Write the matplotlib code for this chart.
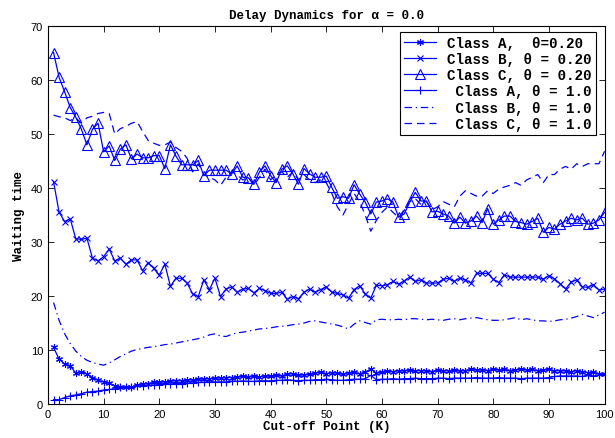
import numpy as np
import matplotlib
matplotlib.use("Agg")
import matplotlib.pyplot as plt
from matplotlib.font_manager import FontProperties

# cut-off points K = 1..100
k = np.arange(1, 101)

class_a_020 = [10.5, 8.3, 7.4, 7.1, 5.7, 6.0, 5.6, 4.9, 4.4, 4.1,
               3.9, 3.4, 3.1, 3.1, 3.1, 3.5, 3.7, 3.8, 4.0, 4.0,
               4.1, 4.2, 4.3, 4.3, 4.5, 4.4, 4.6, 4.6, 4.7, 4.8,
               4.8, 4.9, 4.9, 5.0, 5.1, 5.0, 5.1, 5.0, 5.2, 5.1,
               5.3, 5.2, 5.5, 5.6, 5.3, 5.4, 5.5, 5.7, 5.9, 5.6,
               5.8, 5.7, 5.5, 5.8, 5.9, 5.6, 5.9, 6.5, 5.7, 5.9,
               6.1, 6.0, 6.2, 6.1, 6.3, 6.1, 6.2, 6.1, 6.0, 6.3,
               6.2, 6.1, 6.3, 6.1, 6.2, 6.4, 6.3, 6.3, 6.2, 6.4,
               6.3, 6.4, 6.2, 6.3, 6.5, 6.3, 6.4, 6.2, 6.3, 6.4,
               6.1, 6.2, 6.1, 6.0, 6.2, 6.0, 5.8, 5.9, 5.6, 5.5]

class_b_020 = [41.2, 35.5, 33.8, 34.3, 30.6, 30.5, 30.7, 27.0, 26.5, 27.3,
               28.7, 26.5, 27.0, 25.9, 26.7, 26.7, 24.7, 26.2, 25.1, 23.9,
               25.9, 21.8, 23.3, 23.3, 22.4, 20.4, 19.9, 23.0, 21.2, 23.3,
               19.9, 21.3, 21.7, 20.7, 21.3, 21.4, 20.6, 21.4, 21.0, 20.5,
               20.5, 20.7, 19.4, 19.9, 19.5, 20.7, 21.3, 20.7, 21.2, 21.7,
               20.7, 20.5, 20.2, 19.6, 21.2, 21.9, 20.4, 19.6, 22.0, 21.9,
               22.1, 22.7, 22.2, 22.8, 23.5, 22.7, 23.0, 22.4, 22.4, 22.4,
               23.1, 23.3, 22.7, 23.3, 23.0, 22.4, 24.2, 24.2, 24.2, 23.1,
               22.5, 23.9, 23.5, 23.5, 23.5, 23.5, 23.5, 23.5, 23.1, 23.8,
               23.2, 22.3, 21.3, 22.6, 23.0, 21.7, 21.6, 22.1, 21.1, 21.3]

class_c_020 = [65.1, 60.5, 57.8, 54.9, 53.1, 50.9, 48.0, 50.9, 52.0, 46.7,
               47.8, 45.1, 47.2, 48.0, 45.4, 46.3, 45.6, 45.6, 46.0, 46.0,
               43.6, 48.0, 45.9, 44.3, 44.3, 44.3, 45.1, 42.3, 43.3, 43.3,
               43.3, 43.3, 42.6, 44.1, 42.0, 41.9, 40.7, 43.0, 44.1, 42.3,
               41.0, 43.5, 44.1, 42.6, 40.7, 43.6, 42.6, 42.0, 42.0, 42.2,
               40.1, 38.1, 38.4, 38.1, 40.6, 38.9, 37.4, 35.2, 37.4, 37.6,
               38.0, 37.4, 34.6, 35.2, 37.4, 39.2, 37.6, 37.6, 35.6, 35.7,
               35.2, 34.8, 33.5, 34.6, 33.5, 33.9, 34.8, 33.6, 36.2, 33.3,
               34.1, 34.8, 34.8, 33.8, 33.6, 33.3, 33.8, 34.4, 31.8, 32.7,
               32.4, 33.3, 33.9, 34.4, 34.1, 34.4, 33.3, 33.5, 34.1, 35.5]

class_a_10 = [0.8, 0.8, 1.2, 1.5, 1.7, 1.9, 2.2, 2.3, 2.4, 2.6,
              2.7, 2.8, 3.1, 3.1, 3.2, 3.3, 3.4, 3.5, 3.5, 3.6,
              3.7, 3.7, 3.8, 3.8, 3.9, 3.9, 4.0, 4.0, 4.1, 4.1,
              4.1, 4.1, 4.2, 4.2, 4.3, 4.2, 4.2, 4.3, 4.3, 4.3,
              4.4, 4.4, 4.5, 4.4, 4.3, 4.4, 4.4, 4.5, 4.5, 4.6,
              4.5, 4.4, 4.4, 4.5, 4.6, 4.6, 4.7, 5.3, 4.5, 4.6,
              4.6, 4.7, 4.6, 4.7, 4.7, 4.8, 4.7, 4.7, 4.7, 4.8,
              4.8, 4.7, 4.8, 4.8, 4.8, 4.8, 4.9, 4.8, 4.8, 4.8,
              4.9, 4.8, 4.8, 4.8, 4.7, 4.8, 4.8, 4.8, 4.8, 4.9,
              5.1, 5.2, 5.2, 5.2, 5.2, 5.1, 5.3, 5.2, 5.4, 5.5]

class_b_10 = [18.8, 15.5, 13.0, 11.2, 9.8, 8.8, 8.1, 7.7, 7.4, 7.2,
              7.6, 8.2, 8.8, 9.3, 9.8, 10.1, 10.3, 10.5, 10.6, 10.8,
              11.0, 11.1, 11.3, 11.5, 11.7, 11.9, 12.1, 12.4, 12.8, 13.0,
              12.6, 12.5, 12.9, 13.2, 13.3, 13.5, 13.7, 13.9, 14.0, 14.1,
              14.3, 14.4, 14.5, 14.7, 14.8, 15.0, 15.3, 15.4, 15.2, 15.0,
              14.8, 14.6, 14.3, 13.9, 14.8, 15.4, 15.1, 14.8, 15.6, 15.7,
              15.6, 15.6, 15.7, 15.6, 15.8, 15.8, 15.7, 15.6, 15.7, 15.6,
              15.5, 15.7, 15.8, 15.6, 15.8, 15.9, 16.0, 15.8, 15.6, 15.5,
              15.5, 15.6, 15.8, 16.0, 15.6, 15.8, 15.6, 15.4, 15.4, 15.3,
              15.4, 15.6, 15.7, 15.9, 16.2, 16.6, 16.3, 16.0, 16.5, 17.0]

class_c_10 = [53.5, 53.2, 53.0, 52.5, 53.0, 52.0, 53.0, 53.3, 53.8, 54.0,
              53.8, 50.0, 51.0, 51.4, 52.0, 52.3, 50.5, 48.8, 48.3, 47.9,
              48.0, 48.5, 47.5, 46.8, 45.5, 43.0, 44.5, 42.5, 42.0, 41.5,
              40.5, 42.0, 43.0, 42.5, 41.5, 42.0, 40.5, 42.0, 43.5, 41.5,
              42.5, 43.0, 42.0, 43.0, 41.5, 42.5, 41.5, 41.0, 41.5, 41.0,
              39.0, 36.5, 35.0, 37.0, 39.0, 37.5, 35.0, 32.0, 34.0, 35.5,
              36.5, 35.5, 34.5, 36.0, 37.5, 38.0, 37.0, 37.5, 36.0, 36.5,
              37.5, 37.0, 36.5, 38.5, 39.5, 39.0, 38.5, 38.5, 39.5, 39.0,
              39.8, 40.2, 40.5, 41.0, 40.5, 41.5, 42.0, 42.5, 41.0, 42.5,
              42.5, 43.5, 44.0, 43.5, 44.5, 44.0, 44.5, 44.5, 44.5, 46.8]

labels = ["Class A,  \u03b8=0.20", "Class B, \u03b8 = 0.20", "Class C, \u03b8 = 0.20",
          " Class A, \u03b8 = 1.0", " Class B, \u03b8 = 1.0", " Class C, \u03b8 = 1.0"]

blue = (0, 0, 1)
mono = FontProperties(family="Liberation Mono", weight="bold", size=9)
mono_leg = FontProperties(family="Liberation Mono", weight="bold", size=10.3)
plt.rcParams["font.family"] = "Liberation Sans"
plt.rcParams["font.size"] = 8

fig = plt.figure(figsize=(6.15, 4.39), dpi=100)
ax = fig.add_axes([0.078, 0.0774, 0.905, 0.861])

ax.plot(k, class_a_020, c=blue, lw=0.9, marker=(6, 2, 0), ms=5, mew=0.8, label=labels[0])
ax.plot(k, class_b_020, c=blue, lw=0.9, marker="x", ms=4.5, mew=0.8, label=labels[1])
ax.plot(k, class_c_020, c=blue, lw=0.9, marker="^", ms=7, mew=0.8, mfc="none", label=labels[2])
ax.plot(k, class_a_10, c=blue, lw=0.9, marker="+", ms=6, mew=0.8, label=labels[3])
ax.plot(k, class_b_10, c=blue, lw=0.9, ls=(0, (6, 3, 1, 3)), label=labels[4])
ax.plot(k, class_c_10, c=blue, lw=0.9, ls=(0, (6, 4)), label=labels[5])

ax.set_xlim(0, 100)
ax.set_ylim(0, 70)
ax.set_xticks(np.arange(0, 101, 10))
ax.set_yticks(np.arange(0, 71, 10))
ax.tick_params(direction="in", top=True, right=True, length=4, width=0.6, labelsize=8)
for s in ax.spines.values():
    s.set_linewidth(0.8)

ax.set_title("Delay Dynamics for \u03b1 = 0.0", fontproperties=mono, pad=6)
ax.set_xlabel("Cut-off Point (K)", fontproperties=mono, labelpad=1)
ax.set_ylabel("Waiting time", fontproperties=mono, labelpad=4)

leg = ax.legend(loc="upper right", prop=mono_leg, frameon=True, fancybox=False,
                edgecolor="black", framealpha=1, handlelength=2.2,
                borderpad=0.3, labelspacing=0.15, handletextpad=0.8,
                borderaxespad=0.0, bbox_to_anchor=(0.985, 0.985))
leg.get_frame().set_linewidth(0.8)

fig.savefig("out.png", dpi=100, facecolor="w")
